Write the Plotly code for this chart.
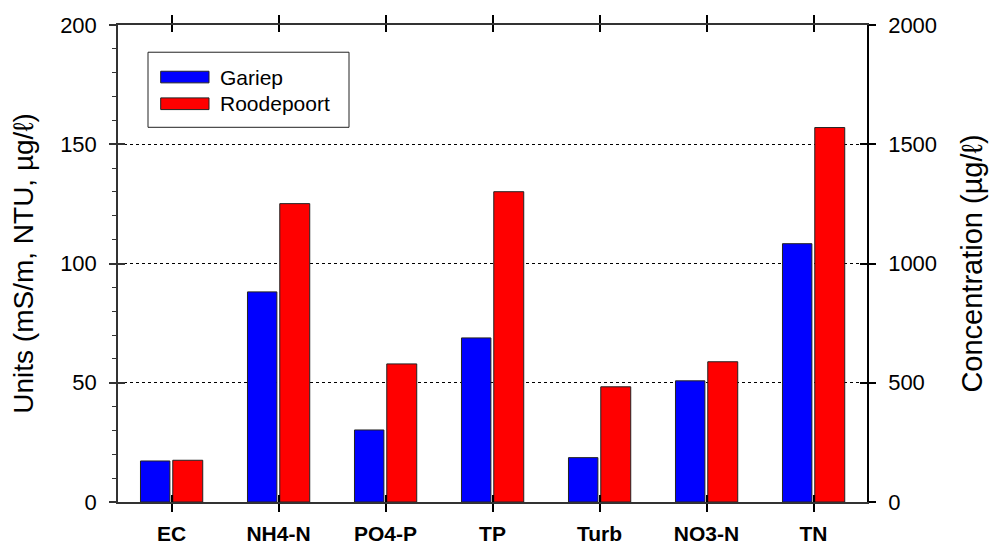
import plotly.graph_objects as go

categories = ["EC", "NH4-N", "PO4-P", "TP", "Turb", "NO3-N", "TN"]
gariep = [17.2, 88.1, 30.2, 68.8, 18.6, 50.8, 108.3]
roodepoort = [17.5, 125.1, 57.9, 130.1, 48.3, 58.8, 157.0]
series_names = ["Gariep", "Roodepoort"]
left_ticks = [0, 50, 100, 150, 200]
right_ticks = [0, 500, 1000, 1500, 2000]

FONT = "Liberation Sans, Arial, sans-serif"
AX = "#333333"

fig = go.Figure()
xi = list(range(len(categories)))
fig.add_trace(go.Bar(x=xi, y=gariep, name=series_names[0], width=0.275, offset=-0.29,
                     marker=dict(color="#0000ff", line=dict(color="#222222", width=1)),
                     showlegend=False))
fig.add_trace(go.Bar(x=xi, y=roodepoort, name=series_names[1], width=0.28, offset=0.012,
                     marker=dict(color="#ff0000", line=dict(color="#222222", width=1)),
                     showlegend=False))
fig.add_trace(go.Scatter(x=[0], y=[0], yaxis="y2", mode="markers",
                         marker=dict(opacity=0), showlegend=False, hoverinfo="skip"))

fig.update_layout(
    width=997, height=544,
    margin=dict(l=118, r=130, t=25, b=42),
    plot_bgcolor="white", paper_bgcolor="white",
    font=dict(family=FONT, color="black"),
    xaxis=dict(range=[-0.5, 6.5], tickvals=xi, ticktext=categories, automargin=False,
               ticks="outside", ticklen=8, tickwidth=1.5, tickcolor="black",
               showline=True, linecolor=AX, linewidth=1.5, mirror="ticks",
               showgrid=False, zeroline=False,
               tickfont=dict(size=21, family=FONT, weight="bold"),
               ticklabelstandoff=4),
    xaxis2=dict(overlaying="x", range=[-0.5, 6.5], tickvals=xi, ticks="inside",
                ticklen=7, tickwidth=1.5, tickcolor="black", mirror="ticks", automargin=False,
                showticklabels=False, showgrid=False, zeroline=False, showline=False,
                anchor="y", side="bottom"),
    yaxis=dict(range=[0, 200], tickvals=left_ticks, ticks="outside", ticklen=7, automargin=False,
               tickwidth=1.5, tickcolor=AX, showline=True, linecolor=AX, linewidth=1.5,
               showgrid=True, gridcolor="black", griddash="dot", gridwidth=1.3,
               zeroline=False, tickfont=dict(size=22, family=FONT),
               ticklabelstandoff=8,
               minor=dict(tickvals=[v for v in range(10, 200, 10) if v % 50 != 0],
                          ticks="outside", ticklen=4, tickcolor=AX, tickwidth=1.2, showgrid=False),
               title=dict(text="Units (mS/m, NTU, µg/ℓ)", font=dict(size=28, family=FONT), standoff=18)),
    yaxis2=dict(overlaying="y", side="right", range=[0, 2000], tickvals=right_ticks, automargin=False,
                ticks="outside", ticklen=7, tickwidth=1.5, tickcolor="black",
                showline=True, linecolor="black", linewidth=1.5, showgrid=False,
                zeroline=False, tickfont=dict(size=22, family=FONT), ticklabelstandoff=8,
                title=dict(text="Concentration (µg/ℓ)", font=dict(size=29, family=FONT), standoff=26)),
    yaxis3=dict(overlaying="y", side="left", range=[0, 200], tickvals=left_ticks, automargin=False,
                ticks="inside", ticklen=7, tickwidth=1.5, tickcolor=AX,
                showticklabels=False, showgrid=False, zeroline=False, showline=False),
    yaxis4=dict(overlaying="y", side="right", range=[0, 2000], tickvals=right_ticks, automargin=False,
                ticks="inside", ticklen=7, tickwidth=1.5, tickcolor="black",
                showticklabels=False, showgrid=False, zeroline=False, showline=False),
)
fig.add_trace(go.Scatter(x=[0], y=[0], xaxis="x2", mode="markers", marker=dict(opacity=0),
                         showlegend=False, hoverinfo="skip"))
fig.add_trace(go.Scatter(x=[0], y=[0], yaxis="y3", mode="markers", marker=dict(opacity=0),
                         showlegend=False, hoverinfo="skip"))
fig.add_trace(go.Scatter(x=[0], y=[0], yaxis="y4", mode="markers", marker=dict(opacity=0),
                         showlegend=False, hoverinfo="skip"))

# manual legend (paper coords: plot spans x 118..867, y 25.5..502 px)
def px_x(p):
    return (p - 118) / 749.0

def px_y(p):
    return (502 - p) / 476.5

fig.add_shape(type="rect", xref="paper", yref="paper", x0=px_x(148), x1=px_x(349),
              y0=px_y(127.7), y1=px_y(52.7),
              line=dict(color="#222222", width=1), fillcolor="white", layer="above")
colors = ["#0000ff", "#ff0000"]
ys = [(71.7, 83.3), (98.3, 110)]
for name, c, (a, b) in zip(series_names, colors, ys):
    fig.add_shape(type="rect", xref="paper", yref="paper", x0=px_x(160.7), x1=px_x(209),
                  y0=px_y(b), y1=px_y(a),
                  line=dict(color="#222222", width=1), fillcolor=c, layer="above")
    fig.add_annotation(xref="paper", yref="paper", x=px_x(218), y=px_y((a + b) / 2), text=name,
                       showarrow=False, xanchor="left", yanchor="middle",
                       font=dict(size=21, family=FONT, color="black"))

fig.write_html("out.html")
